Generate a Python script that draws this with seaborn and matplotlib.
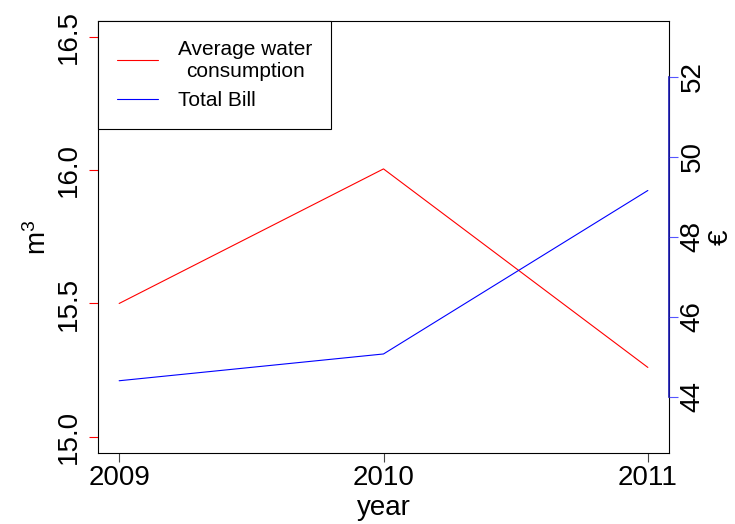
import matplotlib
matplotlib.use("Agg")
import matplotlib.pyplot as plt
import seaborn as sns
import pandas as pd

# Yearly water usage and the matching bill
years = [2009, 2010, 2011]
consumption = [15.50, 16.005, 15.26]   # m^3
bill = [44.40, 45.07, 49.16]           # EUR

left_ticks = [15.0, 15.5, 16.0, 16.5]
left_tick_labels = ["15.0", "15.5", "16.0", "16.5"]
right_ticks = [44, 46, 48, 50, 52]
right_tick_labels = ["44", "46", "48", "50", "52"]

sns.set_style("white")
plt.rcParams["font.family"] = ["Liberation Sans", "DejaVu Sans"]
plt.rcParams["mathtext.fontset"] = "custom"
plt.rcParams["mathtext.rm"] = "Liberation Sans"
plt.rcParams["mathtext.it"] = "Liberation Sans"
plt.rcParams["text.color"] = "black"
plt.rcParams["axes.labelcolor"] = "black"
plt.rcParams["xtick.labelcolor"] = "black"
plt.rcParams["ytick.labelcolor"] = "black"

df = pd.DataFrame({"year": years, "consumption": consumption, "bill": bill})

fig = plt.figure(figsize=(7.35, 5.24), dpi=100)
ax = fig.add_axes([98 / 735, (524 - 452.7) / 524, (669 - 98) / 735, (452.7 - 21) / 524])
ax2 = ax.twinx()

lw = 0.8
sns.lineplot(data=df, x="year", y="consumption", ax=ax, color="red", lw=lw,
             label="Average water\nconsumption", legend=False)
sns.lineplot(data=df, x="year", y="bill", ax=ax2, color="blue", lw=lw,
             label="Total Bill", legend=False)

ax.set_xlim(2008.92, 2011.08)
ax.set_ylim(14.94, 16.56)
ax2.set_ylim(42.6, 53.4)

tick_fs = 20
ax.set_xticks(years)
ax.set_xticklabels([str(y) for y in years], fontsize=tick_fs)
ax.set_yticks(left_ticks)
ax.set_yticklabels(left_tick_labels, fontsize=tick_fs, rotation=90, va="center")
ax2.set_yticks(right_ticks)
ax2.set_yticklabels(right_tick_labels, fontsize=tick_fs, rotation=90, va="center")

ax.tick_params(axis="x", direction="out", length=6.5, width=0.8, color="#444444", pad=2,
               bottom=True)
ax.tick_params(axis="y", direction="out", length=6.5, width=0.8, color="red", pad=5,
               left=True)
ax2.tick_params(axis="y", direction="out", length=6.5, width=0.8, color="#5555ff", pad=1,
                right=True)

for s in ax.spines.values():
    s.set_color("black")
    s.set_linewidth(0.8)
for name in ["top", "left", "bottom"]:
    ax2.spines[name].set_visible(False)
ax2.spines["right"].set_bounds(44, 52)
ax2.spines["right"].set_color("#1a1ab4")
ax2.spines["right"].set_linewidth(1.2)

ax.set_xlabel("year", fontsize=tick_fs, labelpad=3)
ax.set_ylabel(r"$\mathrm{m}^3$", fontsize=tick_fs, labelpad=3)
ax2.set_ylabel("€", fontsize=tick_fs, rotation=90, labelpad=2)

h1, l1 = ax.get_legend_handles_labels()
h2, l2 = ax2.get_legend_handles_labels()
leg = ax2.legend(h1 + h2, l1 + l2, loc="upper left", bbox_to_anchor=(0, 1),
                 borderaxespad=0, fontsize=15, frameon=True, fancybox=False,
                 framealpha=1, edgecolor="black", handlelength=2.0,
                 handletextpad=0.95, borderpad=0.9, labelspacing=0.5)
leg.get_frame().set_linewidth(0.8)
for t in leg.get_texts():
    t.set_multialignment("center")
    t.set_color("black")

fig.savefig("out.png", dpi=100)
